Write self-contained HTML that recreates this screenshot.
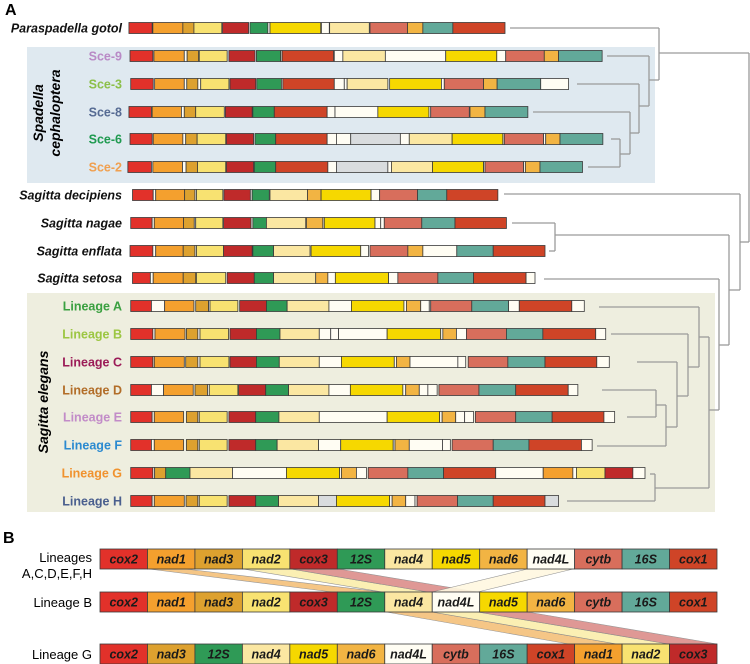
<!DOCTYPE html>
<html><head><meta charset="utf-8">
<style>
html,body{margin:0;padding:0;background:#fff;}
svg{display:block;font-family:"Liberation Sans",Arial,sans-serif;}
</style></head>
<body>
<svg id="fig" width="750" height="664" viewBox="0 0 750 664" xmlns="http://www.w3.org/2000/svg">
  <rect x="27" y="47" width="628" height="136" fill="#dfe9f0"/>
  <rect x="27" y="293" width="688" height="219" fill="#eeeedf"/>
  <text x="5" y="15" font-size="16" font-weight="bold">A</text>
  <text x="3" y="543" font-size="16" font-weight="bold">B</text>
  <text transform="translate(46,113) rotate(-90)" text-anchor="middle" font-size="14" font-weight="bold" font-style="italic"><tspan x="0" dy="-3">Spadella</tspan><tspan x="0" dy="17">cephaloptera</tspan></text>
  <text transform="translate(48,402) rotate(-90)" text-anchor="middle" font-size="14" font-weight="bold" font-style="italic">Sagitta elegans</text>
  <g id="tree" stroke="#9a9a9a" stroke-width="1.3" fill="none"></g>
  <g id="rows"></g>
  <g id="bands"></g>
  <g id="bboxes"></g>
  <text x="92" y="562" text-anchor="end" font-size="13">Lineages</text>
  <text x="92" y="578" text-anchor="end" font-size="13">A,C,D,E,F,H</text>
  <text x="92" y="607" text-anchor="end" font-size="13">Lineage B</text>
  <text x="92" y="659" text-anchor="end" font-size="13">Lineage G</text>
</svg>
<script>
const NS="http://www.w3.org/2000/svg";
const geneColors={r:"#e2312a",o:"#f4a02e",d:"#dda12f",y:"#f8e271",c:"#bf2a2a",g:"#2f9a56",l:"#fbe7a2",f:"#f6d800",s:"#f2b443",w:"#fffdf3",p:"#d86e5c",t:"#62a999",k:"#cf4427",x:"#d9dcde"};
const rowNames=["Paraspadella gotol","Sce-9","Sce-3","Sce-8","Sce-6","Sce-2","Sagitta decipiens","Sagitta nagae","Sagitta enflata","Sagitta setosa","Lineage A","Lineage B","Lineage C","Lineage D","Lineage E","Lineage F","Lineage G","Lineage H"];
const rowY=[28,56,84,112,139,167,195,223,251,278,306,334,362,390,417,445,473,501];
const labelColors=["#111","#b98ac6","#8cc04a","#566b93","#1f9a50","#f0a050","#111","#111","#111","#111","#3aa040","#9cc642","#9b1b57","#b26d28","#c28cc8","#2b8ad0","#f0922e","#4a5f8e"];
const labelItalic=[1,0,0,0,0,0,1,1,1,1,0,0,0,0,0,0,0,0];
const rowSegs=[
"r 25 90,o 92 176,d 176 207,y 207 285,c 287 360,g 364 414,w 414 420,f 420 562,w 564 586,l 587 698,p 700 805,s 805 848,t 848 932,k 932 1078",
"r 28 92,o 95 180,w 180 188,d 188 220,y 222 300,c 305 378,g 382 450,w 450 454,k 454 598,w 600 624,l 624 743,w 743 912,f 912 1055,w 1055 1080,p 1080 1188,s 1188 1228,t 1228 1350",
"r 30 93,o 97 180,w 180 187,d 187 218,w 218 226,y 226 305,c 308 380,g 383 452,w 452 456,k 456 600,w 600 628,w 628 636,l 636 750,f 755 900,w 900 908,p 908 1018,s 1018 1056,t 1056 1178,w 1178 1256",
"r 25 88,o 90 172,w 172 180,d 180 212,y 212 292,c 295 370,g 372 432,k 432 580,w 580 602,w 602 722,f 722 865,w 865 870,p 870 978,s 980 1022,t 1022 1142",
"r 28 90,o 93 176,w 176 184,d 184 216,y 216 296,c 298 374,g 378 436,k 436 580,w 580 606,w 606 646,x 646 785,w 785 810,l 810 930,f 930 1072,w 1072 1076,p 1076 1186,w 1186 1192,s 1192 1232,t 1232 1352",
"r 22 88,o 92 175,w 175 185,d 185 217,y 217 296,c 298 374,g 376 436,k 436 582,w 582 606,x 606 750,w 750 760,l 760 875,f 875 1018,w 1018 1022,p 1022 1130,w 1130 1135,s 1135 1176,t 1176 1295",
"r 35 93,w 93 100,o 100 181,d 181 210,w 210 214,y 214 288,c 291 365,w 365 370,g 370 418,l 420 525,s 525 563,f 563 703,w 703 727,p 727 833,t 833 915,k 915 1058",
"r 30 90,w 90 96,o 96 178,d 178 208,w 208 212,y 212 288,c 290 367,w 367 372,g 372 410,l 410 520,s 522 568,w 568 572,f 572 714,w 714 730,w 730 740,p 740 845,t 845 938,k 938 1082",
"r 28 92,w 92 100,o 100 177,d 177 210,w 210 214,y 214 290,c 290 370,g 372 430,l 430 532,f 535 674,w 674 696,p 700 806,s 806 848,w 848 943,t 943 1045,k 1045 1190",
"r 35 85,w 85 93,o 93 177,d 177 212,y 214 296,c 300 376,g 376 430,l 430 548,s 548 582,w 582 603,f 603 752,w 752 778,p 778 890,t 890 990,k 990 1137,w 1137 1162",
"r 30 88,w 88 125,o 125 207,d 212 248,w 248 252,y 252 330,c 335 410,g 410 468,l 468 585,w 585 648,f 648 795,w 795 802,s 802 842,w 842 866,w 866 870,p 870 985,t 985 1088,w 1088 1118,k 1118 1265,w 1265 1300",
"r 30 92,w 92 98,o 98 182,d 186 218,w 218 224,y 224 304,c 308 382,g 382 448,l 448 558,w 558 590,w 590 612,w 612 748,f 748 898,w 898 904,s 904 942,w 942 970,p 970 1082,t 1082 1184,k 1184 1332,w 1332 1360",
"r 30 92,w 92 96,o 96 180,d 184 218,w 218 224,y 224 305,c 308 382,g 382 446,l 446 558,w 558 620,f 620 768,w 768 774,s 774 812,w 812 946,w 946 968,p 975 1086,t 1086 1190,k 1190 1335,w 1335 1370",
"r 30 88,w 88 122,o 122 205,d 210 245,w 245 250,y 250 330,c 332 408,g 408 472,l 472 585,w 585 645,f 645 792,w 792 800,s 800 838,w 838 862,w 862 888,p 893 1005,t 1005 1108,k 1108 1255,w 1255 1282",
"r 30 90,w 90 96,o 96 178,d 186 218,w 218 222,y 222 300,c 305 380,g 380 445,l 445 558,w 558 748,f 748 895,w 895 902,s 902 940,w 940 965,w 965 990,p 995 1108,t 1108 1210,k 1210 1355,w 1355 1385",
"r 30 88,w 88 96,o 96 178,d 186 218,w 218 222,y 222 300,c 305 380,g 380 440,l 440 556,w 556 618,f 618 765,w 765 770,s 770 810,w 810 903,w 903 925,p 930 1045,t 1045 1145,k 1145 1292,w 1292 1322",
"r 30 92,w 92 97,d 97 128,g 128 196,l 196 315,w 315 466,f 466 615,w 615 620,s 620 662,w 662 690,p 695 806,t 806 906,k 906 1052,w 1052 1185,o 1185 1268,w 1268 1278,y 1278 1358,c 1358 1436,w 1436 1470",
"r 30 90,w 90 96,o 96 180,d 185 218,w 218 222,y 222 300,c 305 380,g 380 444,l 444 556,x 556 606,f 606 755,w 755 762,s 762 800,w 800 826,w 826 832,p 832 945,t 945 1045,k 1045 1190,x 1190 1228"
];
const treeLines=[
[510,28,659,28],[659,28,659,80],[659,53,749,53],
[607,56,649,56],[649,56,649,106],[649,80,659,80],
[577,84,639,84],[639,84,639,133],[639,106,649,106],
[533,112,630,112],[630,112,630,154],[630,133,639,133],
[611,139,620,139],[620,139,620,167],[588,167,620,167],[620,154,630,154],
[504,194,740,194],[740,194,740,290],[740,242,749,242],[749,53,749,242],
[512,223,555,223],[555,223,555,251],[549,251,555,251],[555,235,729,235],[729,235,729,345],[729,290,740,290],
[544,279,719,279],[719,279,719,410],[719,345,729,345],
[599,307,699,307],[699,307,699,367],[611,334,688,334],[688,334,688,396],[699,337,709,337],
[637,362,677,362],[677,362,677,427],[688,367,699,367],
[602,390,656,390],[656,390,656,417],[627,417,656,417],[656,405,666,405],[666,405,666,446],[597,446,666,446],[666,427,677,427],[677,396,688,396],
[650,474,655,474],[655,474,655,501],[567,501,655,501],[655,488,709,488],[709,337,709,488],[709,410,719,410]
];
const bGenes1=["cox2","nad1","nad3","nad2","cox3","12S","nad4","nad5","nad6","nad4L","cytb","16S","cox1"];
const bGenes2=["cox2","nad1","nad3","nad2","cox3","12S","nad4","nad4L","nad5","nad6","cytb","16S","cox1"];
const bGenes3=["cox2","nad3","12S","nad4","nad5","nad6","nad4L","cytb","16S","cox1","nad1","nad2","cox3"];
const bRowY=[549,592,644];
const bNameColor={cox2:"#e2312a",nad1:"#f4a02e",nad3:"#dda12f",nad2:"#f8e271",cox3:"#bf2a2a","12S":"#2f9a56",nad4:"#fbe7a2",nad5:"#f6d800",nad6:"#f2b443",nad4L:"#fffdf3",cytb:"#d86e5c","16S":"#62a999",cox1:"#cf4427"};

function mk(tag,attrs,parent){const e=document.createElementNS(NS,tag);for(const k in attrs)e.setAttribute(k,attrs[k]);parent.appendChild(e);return e;}
const zx=px=>120+px/2.8;

const tree=document.getElementById('tree');
treeLines.forEach(l=>{
  const e=mk('line',{x1:l[0],y1:l[1],x2:l[2],y2:l[3]},tree);
  
  
});

const rows=document.getElementById('rows');
rowSegs.forEach((str,i)=>{
  const g=mk('g',{},rows);
  
  
  const y=rowY[i]-5.5;
  str.split(',').forEach(s=>{
    const [c,a,b]=s.trim().split(' ');
    const r=mk('rect',{x:zx(+a),y:y,width:Math.max(zx(+b)-zx(+a),0.5),height:11,fill:geneColors[c],stroke:'#3a3a3a','stroke-width':0.8},g);
    
    
  });
  const t=mk('text',{x:122,y:rowY[i]+4.5,'text-anchor':'end','font-size':12.5,'font-weight':'bold',fill:labelColors[i]},g);
  if(labelItalic[i])t.setAttribute('font-style','italic');
  t.textContent=rowNames[i];
  
  
});

const bands=document.getElementById('bands');
const bx=px=>100+px*0.415;
const bandDefs=[
 [118,205,560,680,569,592,"#f5c07a"],[345,460,680,790,569,592,"#fbeeab"],[460,575,790,910,569,592,"#dc8d8a"],
 [690,800,1130,1245,612,644,"#f5c07a"],[800,910,1245,1370,612,644,"#fbeeab"],[910,1030,1370,1487,612,644,"#dc8d8a"],
 [1030,1140,800,910,569,592,"#fff8e0"]
];
bandDefs.forEach(d=>{
  const p=mk('polygon',{points:`${bx(d[0])},${d[4]} ${bx(d[1])},${d[4]} ${bx(d[3])},${d[5]} ${bx(d[2])},${d[5]}`,fill:d[6],stroke:'#8a8a8a','stroke-width':0.6,opacity:0.9},bands);
  
  
});

const bb=document.getElementById('bboxes');
const bw=(717-100)/13;
[bGenes1,bGenes2,bGenes3].forEach((arr,ri)=>{
  const y=bRowY[ri];const h=20;
  arr.forEach((gname,j)=>{
    const r=mk('rect',{x:100+j*bw,y:y,width:bw,height:h,fill:bNameColor[gname],stroke:'#3a3a3a','stroke-width':0.8},bb);
    
    
    const t=mk('text',{x:100+j*bw+bw/2,y:y+14.5,'text-anchor':'middle','font-size':12.5,'font-weight':'bold','font-style':'italic',fill:'#1a1a1a'},bb);
    t.textContent=gname;
    
    
  });
});
</script>
</body></html>
